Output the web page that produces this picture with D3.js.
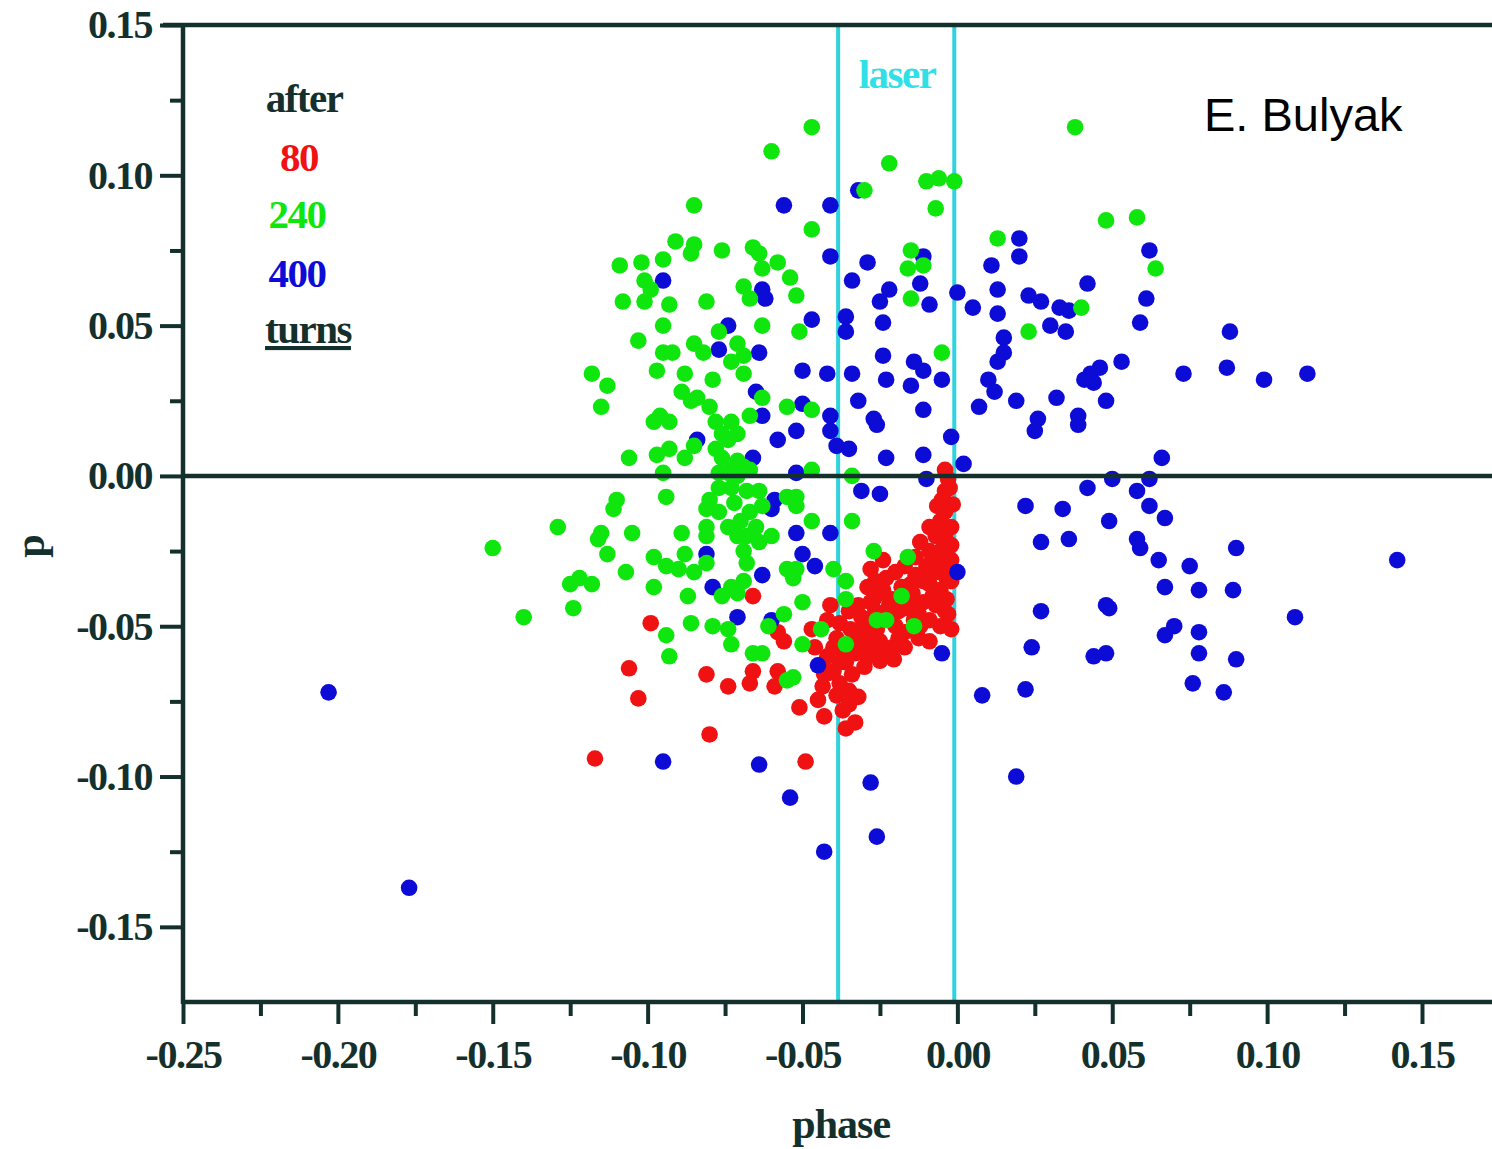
<!DOCTYPE html>
<html><head><meta charset="utf-8">
<script src="https://cdn.jsdelivr.net/npm/d3@7"></script>
<style>body{margin:0;background:#fff}svg{display:block}</style>
</head><body><svg id="c" width="1492" height="1149"></svg>
<script>
// ---------------- DATA ----------------
const xTickValues = [-0.25,-0.20,-0.15,-0.10,-0.05,0.00,0.05,0.10,0.15];
const xTickLabels = ["-0.25","-0.20","-0.15","-0.10","-0.05","0.00","0.05","0.10","0.15"];
const xMinorTicks = [-0.225,-0.175,-0.125,-0.075,-0.025,0.025,0.075,0.125];
const yTickValues = [0.15,0.10,0.05,0.00,-0.05,-0.10,-0.15];
const yTickLabels = ["0.15","0.10","0.05","0.00","-0.05","-0.10","-0.15"];
const yMinorTicks = [0.125,0.075,0.025,-0.025,-0.075,-0.125];
const laserEdges = [-0.0385,-0.001];
const legendLabels = ["after","80","240","400","turns"];
const xLabel = "phase", yLabel = "p", laserLabel = "laser", credit = "E. Bulyak";

// after 80 turns (phase, p)
const red80 = [
[-0.117,-0.094],[-0.106,-0.064],[-0.103,-0.074],[-0.099,-0.049],[-0.081,-0.066],[-0.074,-0.070],
[-0.067,-0.069],[-0.066,-0.065],[-0.058,-0.065],[-0.059,-0.070],[-0.056,-0.055],[-0.058,-0.052],
[-0.051,-0.077],[-0.080,-0.086],[-0.049,-0.095],[-0.066,-0.040],[-0.043,-0.080],[-0.033,-0.082],[-0.035,-0.076],
[-0.004,0.002],[-0.003,-0.001],[-0.004,-0.005],[-0.005,-0.008],[-0.004,-0.012],[-0.0065,-0.010],
[-0.0055,-0.015],[-0.009,-0.017],[-0.007,-0.020],[-0.004,-0.020],[-0.012,-0.022],[-0.009,-0.025],
[-0.0055,-0.025],[-0.004,-0.029],[-0.0135,-0.027],[-0.010,-0.030],[-0.007,-0.032],[-0.0035,-0.034],
[-0.017,-0.030],[-0.0135,-0.033],[-0.009,-0.036],[-0.0055,-0.038],[-0.020,-0.032],[-0.023,-0.034],
[-0.018,-0.037],[-0.0145,-0.039],[-0.011,-0.042],[-0.007,-0.043],[-0.0035,-0.041],[-0.0265,-0.035],
[-0.025,-0.039],[-0.021,-0.041],[-0.017,-0.044],[-0.0125,-0.046],[-0.009,-0.048],[-0.0055,-0.050],
[-0.029,-0.037],[-0.028,-0.042],[-0.032,-0.043],[-0.031,-0.047],[-0.0265,-0.045],[-0.023,-0.047],
[-0.020,-0.050],[-0.017,-0.052],[-0.0125,-0.054],[-0.035,-0.045],[-0.038,-0.049],[-0.0345,-0.051],
[-0.031,-0.052],[-0.028,-0.054],[-0.025,-0.055],[-0.021,-0.057],[-0.017,-0.057],[-0.041,-0.043],
[-0.042,-0.048],[-0.039,-0.054],[-0.037,-0.058],[-0.033,-0.059],[-0.029,-0.060],[-0.025,-0.0615],
[-0.0205,-0.061],[-0.030,-0.0635],[-0.038,-0.062],[-0.042,-0.060],[-0.0415,-0.0655],[-0.038,-0.069],
[-0.035,-0.0715],[-0.039,-0.073],[-0.0435,-0.070],[-0.045,-0.0745],[-0.032,-0.0735],[-0.036,-0.084],
[-0.028,-0.031],[-0.024,-0.028],[-0.027,-0.041],[-0.024,-0.038],[-0.0015,-0.0095],[-0.002,-0.023],
[-0.003,-0.046],[-0.009,-0.055],[-0.002,-0.051],[-0.047,-0.051],
[-0.006,-0.018],[-0.008,-0.027],[-0.011,-0.035],[-0.015,-0.036],[-0.019,-0.045],[-0.022,-0.043],
[-0.026,-0.051],[-0.030,-0.049],[-0.033,-0.055],[-0.036,-0.062],[-0.040,-0.065],[-0.043,-0.066],
[-0.014,-0.048],[-0.008,-0.040],[-0.004,-0.045],[-0.002,-0.035],[-0.002,-0.028],[-0.002,-0.017],
[-0.0025,-0.004],[-0.019,-0.054],[-0.023,-0.059],[-0.027,-0.057],[-0.034,-0.066],[-0.044,-0.063],
[-0.046,-0.057],[-0.040,-0.057],[-0.037,-0.078],[-0.031,-0.056],[-0.015,-0.042],[-0.012,-0.050]
];

// after 240 turns
const green240 = [
[-0.085,0.090],[-0.091,0.078],[-0.085,0.077],[-0.086,0.074],[-0.076,0.075],[-0.066,0.076],[-0.064,0.074],
[-0.058,0.071],[-0.063,0.069],[-0.109,0.070],[-0.102,0.071],[-0.095,0.072],[-0.101,0.065],[-0.099,0.062],
[-0.101,0.058],[-0.108,0.058],[-0.093,0.057],[-0.081,0.058],[-0.069,0.063],[-0.067,0.059],[-0.054,0.066],
[-0.052,0.060],[-0.095,0.050],[-0.103,0.045],[-0.077,0.048],[-0.071,0.044],[-0.069,0.040],[-0.063,0.050],
[-0.051,0.048],[-0.095,0.041],[-0.092,0.041],[-0.085,0.044],[-0.082,0.041],[-0.069,0.034],[-0.073,0.038],
[-0.118,0.034],[-0.113,0.030],[-0.115,0.023],[-0.097,0.035],[-0.088,0.034],[-0.079,0.032],[-0.089,0.028],
[-0.084,0.026],[-0.086,0.025],[-0.063,0.026],[-0.055,0.023],[-0.096,0.020],[-0.098,0.018],[-0.093,0.018],
[-0.080,0.023],[-0.078,0.018],[-0.073,0.018],[-0.067,0.020],[-0.076,0.014],[-0.074,0.012],[-0.071,0.014],
[-0.106,0.006],[-0.097,0.007],[-0.093,0.009],[-0.088,0.006],[-0.085,0.010],[-0.078,0.009],[-0.076,0.006],
[-0.071,0.005],[-0.073,0.002],[-0.069,0.003],[-0.095,0.001],[-0.094,-0.007],[-0.110,-0.008],[-0.111,-0.011],
[-0.129,-0.017],[-0.115,-0.019],[-0.116,-0.021],[-0.105,-0.019],[-0.113,-0.026],[-0.107,-0.032],[-0.089,-0.019],
[-0.081,-0.017],[-0.081,-0.020],[-0.098,-0.027],[-0.094,-0.030],[-0.090,-0.031],[-0.088,-0.026],[-0.085,-0.032],
[-0.081,-0.029],[-0.122,-0.034],[-0.125,-0.036],[-0.118,-0.036],[-0.124,-0.044],[-0.098,-0.037],[-0.087,-0.040],
[-0.086,-0.049],[-0.094,-0.053],[-0.093,-0.060],[-0.079,-0.050],[-0.074,-0.051],[-0.073,-0.056],[-0.066,-0.059],
[-0.063,-0.059],[-0.055,-0.068],[-0.055,-0.031],[-0.053,-0.034],[-0.056,-0.046],[-0.050,-0.042],[-0.050,-0.056],
[-0.061,-0.050],[-0.064,-0.022],[-0.060,-0.020],[-0.068,-0.020],[-0.052,-0.007],[-0.052,-0.010],[-0.055,-0.007],
[-0.077,-0.004],[-0.080,-0.008],[-0.081,-0.011],[-0.077,-0.012],[-0.073,-0.004],[-0.072,-0.009],[-0.074,-0.017],
[-0.071,-0.020],[-0.069,-0.025],[-0.068,-0.029],[-0.069,-0.035],[-0.073,-0.037],[-0.076,-0.040],[-0.071,-0.039],
[-0.067,-0.012],[-0.063,-0.010],[-0.064,-0.005],[-0.068,-0.005],[-0.065,-0.017],[-0.070,-0.015],[-0.074,0.001],
[-0.071,0.000],[-0.077,0.001],[-0.067,0.002],[-0.022,0.104],[-0.030,0.095],[-0.010,0.098],[-0.006,0.099],
[-0.001,0.098],[-0.007,0.089],[-0.047,0.082],[-0.015,0.075],[-0.011,0.070],[-0.016,0.069],[-0.015,0.059],
[-0.005,0.041],[-0.047,0.022],[-0.047,0.002],[-0.034,0.000],[-0.047,0.116],[-0.060,0.108],[0.038,0.116],
[0.013,0.079],[0.048,0.085],[0.058,0.086],[0.064,0.069],[0.040,0.056],[0.023,0.048],[-0.150,-0.024],
[-0.140,-0.047],[-0.047,-0.015],[-0.034,-0.015],[-0.052,-0.031],[-0.040,-0.031],[-0.036,-0.035],[-0.027,-0.025],
[-0.016,-0.027],[-0.018,-0.040],[-0.026,-0.048],[-0.023,-0.048],[-0.014,-0.050],[-0.036,-0.041],[-0.044,-0.051],
[-0.036,-0.056],[-0.053,-0.067]
];

// after 400 turns
const blue400 = [
[-0.203,-0.072],[-0.177,-0.137],[-0.095,-0.095],[-0.064,-0.096],[-0.054,-0.107],[-0.043,-0.125],[-0.028,-0.102],
[-0.026,-0.120],[-0.005,-0.059],[0.008,-0.073],[0.019,-0.100],[0.022,-0.071],[0.142,-0.028],[0.109,-0.047],
[0.088,0.048],[0.087,0.036],[0.099,0.032],[0.113,0.034],[0.073,0.034],[0.090,-0.024],[0.089,-0.038],
[0.090,-0.061],[0.086,-0.072],[0.076,-0.069],[0.078,-0.059],[0.078,-0.052],[0.070,-0.050],[0.067,-0.053],
[0.078,-0.038],[0.067,-0.037],[0.075,-0.030],[0.065,-0.028],[0.059,-0.024],[0.058,-0.021],[0.066,0.006],
[0.067,-0.014],[0.062,-0.010],[0.062,-0.001],[0.058,-0.005],[0.050,-0.001],[0.042,-0.004],[0.049,-0.015],
[0.034,-0.011],[0.022,-0.010],[0.027,-0.022],[0.036,-0.021],[0.027,-0.045],[0.048,-0.043],[0.049,-0.044],
[0.024,-0.057],[0.044,-0.060],[0.048,-0.059],[0.020,0.079],[0.020,0.073],[0.011,0.070],[0.013,0.062],
[0.005,0.056],[0.013,0.054],[0.023,0.060],[0.027,0.058],[0.033,0.056],[0.036,0.055],[0.042,0.064],
[0.030,0.050],[0.035,0.048],[0.062,0.075],[0.061,0.059],[0.059,0.051],[0.015,0.046],[0.015,0.041],
[0.013,0.038],[0.010,0.032],[0.012,0.028],[0.007,0.023],[0.019,0.025],[0.026,0.019],[0.025,0.015],
[0.032,0.026],[0.039,0.020],[0.039,0.017],[0.043,0.034],[0.046,0.036],[0.044,0.031],[0.041,0.032],
[0.053,0.038],[0.048,0.025],[-0.032,0.095],[-0.041,0.090],[-0.056,0.090],[-0.041,0.073],[-0.029,0.071],
[-0.034,0.065],[-0.012,0.064],[-0.011,0.073],[-0.022,0.062],[-0.025,0.058],[-0.024,0.051],[-0.009,0.057],
[0.000,0.061],[-0.047,0.052],[-0.036,0.053],[-0.036,0.048],[-0.050,0.035],[-0.042,0.034],[-0.034,0.034],
[-0.024,0.040],[-0.023,0.032],[-0.014,0.038],[-0.011,0.035],[-0.015,0.030],[-0.005,0.032],[-0.050,0.024],
[-0.041,0.020],[-0.032,0.025],[-0.027,0.019],[-0.026,0.017],[-0.052,0.015],[-0.041,0.015],[-0.011,0.022],
[-0.035,0.009],[-0.039,0.010],[-0.023,0.006],[-0.011,0.007],[-0.002,0.013],[0.002,0.004],[-0.010,-0.001],
[-0.031,-0.005],[-0.025,-0.006],[-0.052,0.001],[-0.052,-0.019],[-0.041,-0.019],[-0.050,-0.026],[-0.046,-0.030],
[0.000,-0.032],[-0.045,-0.063],[-0.095,0.065],[-0.063,0.062],[-0.062,0.059],[-0.074,0.050],[-0.077,0.042],
[-0.064,0.041],[-0.065,0.028],[-0.063,0.020],[-0.058,0.012],[-0.084,0.012],[-0.066,0.006],[-0.060,-0.011],
[-0.059,-0.008],[-0.081,-0.026],[-0.063,-0.033],[-0.079,-0.037],[-0.071,-0.047],[-0.060,-0.048]
];

const seriesColors = {red80:"#f01212", green240:"#0ee60e", blue400:"#0c0cd6"};

// ---------------- CHART ----------------
const AX = "#14302c";
const svg = d3.select("#c");
const x = d3.scaleLinear().domain([-0.25,0.15]).range([183,1422]);
const y = d3.scaleLinear().domain([-0.175,0.15]).range([1002,25]);
const xEnd = x.invert(1492);
const SERIF = "'Liberation Serif','Times New Roman',serif";

// laser lines
svg.append("g").selectAll("line").data(laserEdges).join("line")
  .attr("x1",d=>x(d)).attr("x2",d=>x(d))
  .attr("y1",y(0.15)).attr("y2",y(-0.175))
  .attr("stroke","#2fd3df").attr("stroke-width",4);

// points: red, blue, green order
function dots(data,color){
  svg.append("g").selectAll("circle").data(data).join("circle")
    .attr("cx",d=>x(d[0])).attr("cy",d=>y(d[1])).attr("r",8.3).attr("fill",color);
}
dots(red80,seriesColors.red80);
dots(blue400,seriesColors.blue400);
dots(green240,seriesColors.green240);

// frame lines
const lines = [
  [x(-0.25),y(0.15),x(-0.25),y(-0.175)+2],
  [x(-0.25)-20,y(0.15),x(xEnd),y(0.15)],
  [x(-0.25),y(-0.175),x(xEnd),y(-0.175)],
  [x(-0.25),y(0),x(xEnd),y(0)]
];
svg.append("g").selectAll("line").data(lines).join("line")
  .attr("x1",d=>d[0]).attr("y1",d=>d[1]).attr("x2",d=>d[2]).attr("y2",d=>d[3])
  .attr("stroke",AX).attr("stroke-width",4.5);

// x axis
const gx = svg.append("g").attr("transform",`translate(0,${y(-0.175)})`)
  .call(d3.axisBottom(x).tickValues(xTickValues).tickSize(22).tickFormat((d,i)=>xTickLabels[i]));
const gxm = svg.append("g").attr("transform",`translate(0,${y(-0.175)})`)
  .call(d3.axisBottom(x).tickValues(xMinorTicks).tickSize(14).tickFormat(""));
// y axis
const gy = svg.append("g").attr("transform",`translate(${x(-0.25)},0)`)
  .call(d3.axisLeft(y).tickValues(yTickValues).tickSize(23).tickFormat((d,i)=>yTickLabels[i]));
const gym = svg.append("g").attr("transform",`translate(${x(-0.25)},0)`)
  .call(d3.axisLeft(y).tickValues(yMinorTicks).tickSize(13).tickFormat(""));
[gx,gxm,gy,gym].forEach(g=>{
  g.select(".domain").remove();
  g.selectAll("line").attr("stroke",AX).attr("stroke-width",4);
  g.selectAll("text").attr("font-family",SERIF).attr("font-weight","bold")
    .attr("font-size",40).attr("fill",AX).attr("letter-spacing",-1.5);
});
gx.selectAll("text").attr("y",66).attr("dy",0);
gy.selectAll("text").attr("x",-31);

// axis titles
svg.append("text").attr("x",x(-0.0375)).attr("y",1138).attr("text-anchor","middle")
  .attr("font-family",SERIF).attr("font-weight","bold").attr("font-size",42).attr("fill",AX)
  .attr("letter-spacing",-1).text(xLabel);
svg.append("text").attr("transform",`translate(44,546) rotate(-90)`).attr("text-anchor","middle")
  .attr("font-family",SERIF).attr("font-weight","bold").attr("font-size",42).attr("fill",AX).text(yLabel);

// legend
const legendColors = [AX, seriesColors.red80, seriesColors.green240, seriesColors.blue400, AX];
const legendX = [304,299,297,297,308];
const legendY = [112,171,228,287,343];
svg.append("g").selectAll("text").data(legendLabels).join("text")
  .attr("x",(d,i)=>legendX[i]).attr("y",(d,i)=>legendY[i]).attr("text-anchor","middle")
  .attr("font-family",SERIF).attr("font-weight","bold").attr("font-size",41)
  .attr("letter-spacing",-1.5)
  .attr("fill",(d,i)=>legendColors[i])
  .attr("text-decoration",(d,i)=>i===4?"underline":null)
  .text(d=>d);

// laser label
svg.append("text").attr("x",897).attr("y",88).attr("text-anchor","middle")
  .attr("font-family",SERIF).attr("font-weight","bold").attr("font-size",41)
  .attr("letter-spacing",-1.5).attr("fill","#2fe0e6").text(laserLabel);

// credit
svg.append("text").attr("x",1204).attr("y",131)
  .attr("font-family","'Liberation Sans',Arial,sans-serif").attr("font-size",47).attr("fill","#000")
  .text(credit);
</script>
</body></html>
